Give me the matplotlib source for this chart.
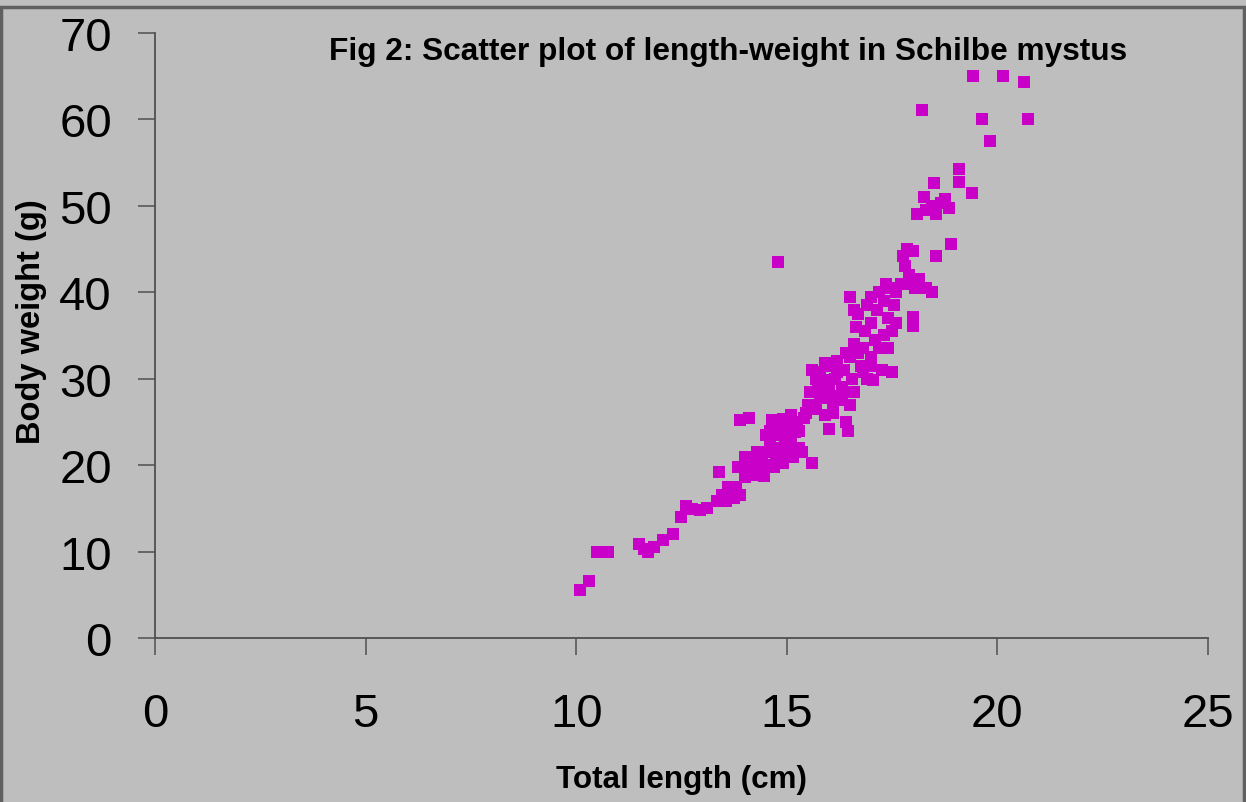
import numpy as np
import matplotlib.pyplot as plt
from matplotlib.patches import Rectangle

# total length (cm) and body weight (g)
length = [10.1, 10.3, 10.5, 10.75, 11.5, 11.6, 11.7, 11.85, 12.05, 12.3,
          12.5, 12.6, 12.75, 12.95, 13.1,
          13.35, 13.45, 13.55, 13.4, 13.65, 13.75, 13.8, 13.9,
          13.85, 13.9, 14.1, 14.0, 14.1, 14.2, 14.25, 14.35,
          14.4, 14.45, 14.5, 14.55, 14.6, 14.65, 14.7, 14.7,
          14.75, 14.8, 14.85, 14.9, 14.9, 14.95, 15.0, 15.05,
          15.1, 15.15, 15.2, 15.25, 15.3, 15.35, 15.45, 15.6,
          14.8,
          15.5, 15.55, 15.6, 15.7, 15.75, 15.8, 15.85, 15.9,
          15.95, 16.0, 16.0, 16.05, 16.1, 16.15, 16.2, 16.25,
          16.3, 16.35, 16.4, 16.45, 16.5, 16.5, 16.55, 16.6,
          16.6, 16.65, 16.5, 16.7, 16.75, 16.8, 16.85, 16.9,
          16.9, 17.0, 17.0, 17.05, 17.1, 17.15, 17.2, 17.25,
          17.3, 17.3, 17.35, 17.4, 17.45, 17.5, 17.5, 17.55,
          17.6, 17.7, 17.75, 17.8, 17.85, 17.9, 18.0, 18.0,
          18.0, 18.05, 18.15, 18.3, 18.45, 18.55, 18.9, 17.9,
          18.1, 18.25, 18.3, 18.45, 18.5, 18.55, 18.65, 18.75,
          18.85, 18.2, 19.1, 19.1, 19.4, 19.42, 19.63, 19.82,
          20.13, 20.63, 20.73,
          15.4, 15.6, 15.8, 16.0, 16.2, 16.4, 16.3, 15.9,
          16.7, 16.8, 17.0, 17.2, 16.6, 17.0, 17.6, 17.4,
          14.3, 14.5, 14.9, 15.1, 13.6, 14.0, 14.6, 15.3,
          16.1, 15.7]
weight = [5.5, 6.6, 10.0, 10.0, 10.9, 10.3, 9.9, 10.5, 11.3, 12.0,
          14.0, 15.3, 14.9, 14.8, 15.0,
          15.8, 16.5, 15.9, 19.2, 16.8, 16.2, 17.5, 16.5,
          19.8, 25.2, 25.5, 18.6, 19.6, 20.3, 18.9, 19.5,
          20.8, 18.7, 21.5, 20.0, 22.3, 25.2, 23.5, 19.8,
          21.0, 24.8, 22.0, 25.3, 20.2, 23.0, 21.3, 24.5,
          22.5, 21.0, 23.8, 25.0, 22.0, 21.5, 26.0, 20.3,
          43.5,
          27.0, 28.5, 31.0, 26.5, 29.0, 30.8, 27.8, 25.8,
          29.8, 24.2, 31.5, 28.0, 26.0, 30.0, 32.0, 27.5,
          29.0, 31.0, 25.0, 24.0, 27.0, 32.5, 30.0, 28.5,
          34.0, 36.0, 39.5, 37.5, 31.5, 33.5, 35.5, 30.0,
          38.5, 32.5, 36.5, 29.8, 34.5, 38.0, 40.0, 31.0,
          35.0, 39.0, 41.0, 37.0, 40.5, 35.5, 30.8, 38.5,
          40.0, 41.0, 44.2, 43.0, 45.0, 41.0, 44.8, 37.1,
          36.1, 40.5, 41.5, 40.5, 40.0, 44.2, 45.6, 42.0,
          49.0, 51.0, 49.5, 50.0, 52.6, 49.0, 50.3, 50.8,
          49.8, 61.1, 54.3, 52.8, 51.5, 65.0, 60.0, 57.5,
          65.0, 64.3, 60.0,
          25.5, 26.8, 28.2, 29.3, 30.8, 33.0, 27.8, 31.8,
          33.0, 30.8, 31.5, 33.5, 38.0, 39.5, 36.5, 33.5,
          21.5, 23.5, 24.0, 25.8, 17.5, 21.0, 24.0, 24.0,
          27.0, 30.0]

bg = '#bebebe'
fig = plt.figure(figsize=(12.46, 8.03), dpi=100, facecolor=bg)
ax = fig.add_axes([0.1244, 0.2042, 0.8451, 0.7535])
ax.set_facecolor(bg)

ax.plot(length, weight, 's', color='#c800c8', markersize=9.2,
        markeredgewidth=0, clip_on=False)

ax.set_xlim(0, 25)
ax.set_ylim(0, 70)
ax.set_xticks(np.arange(0, 26, 5))
ax.set_yticks(np.arange(0, 71, 10))
for s in ['top', 'right']:
    ax.spines[s].set_visible(False)
for s in ['left', 'bottom']:
    ax.spines[s].set_color('#505050')
    ax.spines[s].set_linewidth(1.3)
ax.tick_params(direction='out', length=12, width=1.1, color='#505050',
               labelsize=34)
ax.tick_params(axis='x', pad=27)
ax.tick_params(axis='y', pad=19)
for lab in ax.get_xticklabels() + ax.get_yticklabels():
    lab.set_family('Liberation Sans')

fig.text(0.584, 0.935, 'Fig 2: Scatter plot of length-weight in Schilbe mystus',
         ha='center', va='center', fontsize=22.8, fontweight='bold',
         family='Liberation Sans')
fig.text(0.547, 0.029, 'Total length (cm)', ha='center', va='center',
         fontsize=22.6, fontweight='bold', family='Liberation Sans')
fig.text(0.025, 0.599, 'Body weight (g)', ha='center', va='center',
         rotation=90, fontsize=23.5, fontweight='bold', family='Liberation Sans')

# frame round the whole chart
fig.patches.append(Rectangle((0.001, -0.01), 0.997, 1.0, transform=fig.transFigure,
                             fill=False, edgecolor='#606060', linewidth=2.5))

fig.savefig('out.png', dpi=100, facecolor=bg)
